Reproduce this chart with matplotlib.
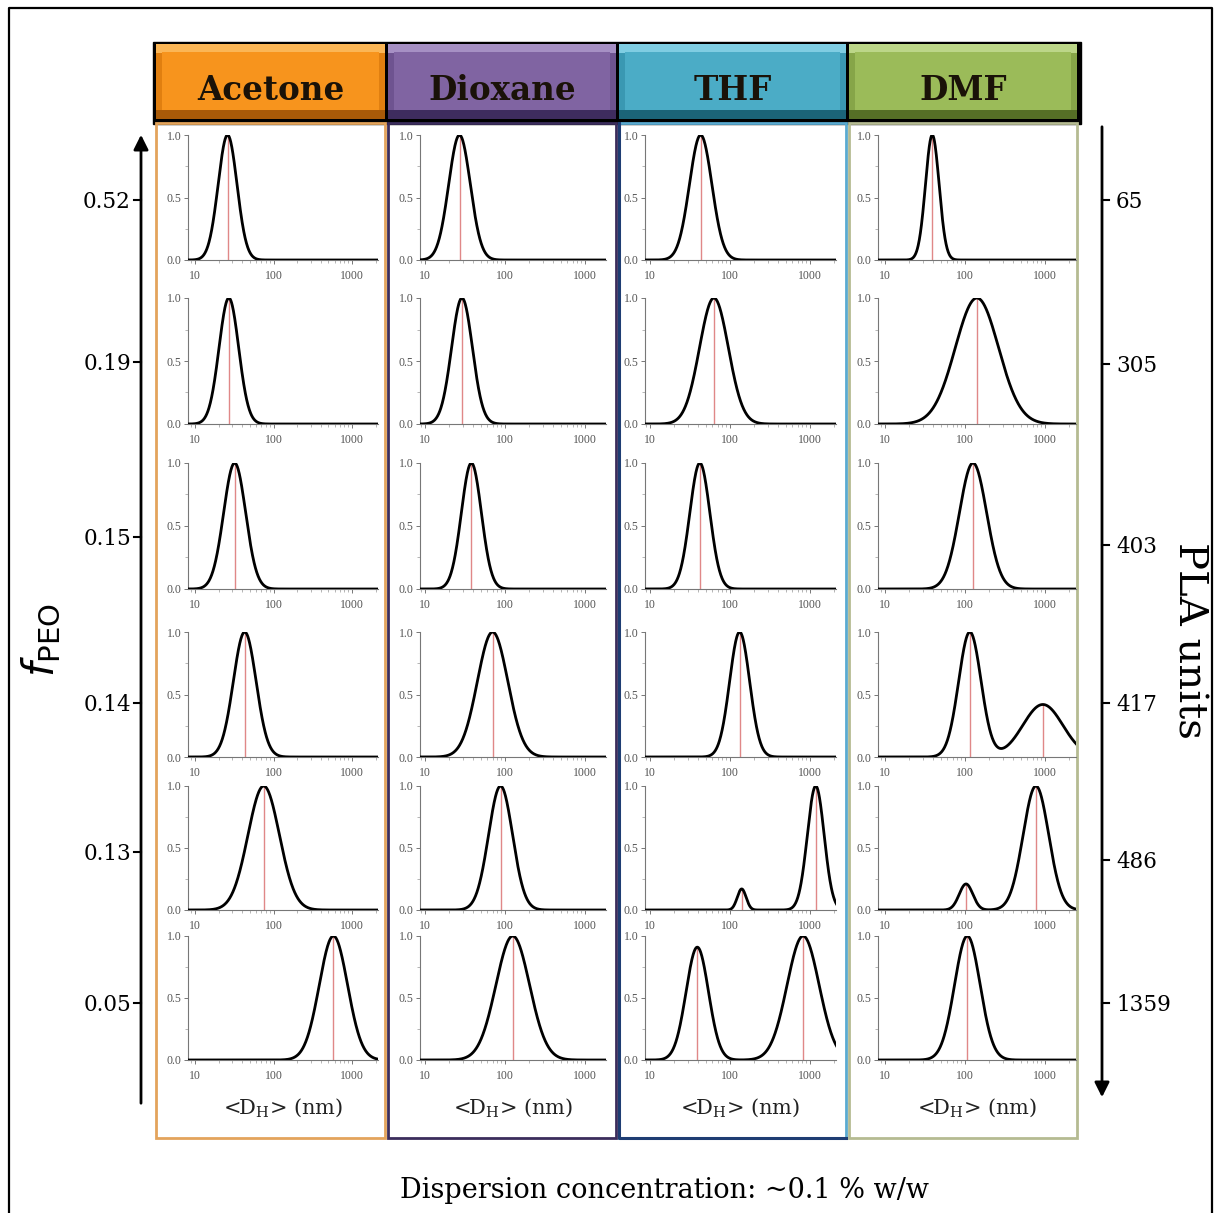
import numpy as np
import matplotlib
matplotlib.use("Agg")
import matplotlib.pyplot as plt
from matplotlib.patches import Rectangle, FancyArrowPatch

# ---------------- data ----------------
solvents = ["Acetone", "Dioxane", "THF", "DMF"]
f_peo_labels = ["0.52", "0.19", "0.15", "0.14", "0.13", "0.05"]
pla_units_labels = ["65", "305", "403", "417", "486", "1359"]
x_tick_values = [10, 100, 1000]
y_tick_values = [0.0, 0.5, 1.0]

# peaks per panel: (center D_H in nm, log10 width sigma, relative height)
acetone_peaks = [
    [(26, 0.12, 1.0)],
    [(27, 0.125, 1.0)],
    [(32, 0.14, 1.0)],
    [(43, 0.145, 1.0)],
    [(75, 0.20, 1.0)],
    [(580, 0.18, 1.0)],
]
dioxane_peaks = [
    [(27, 0.135, 1.0)],
    [(29, 0.13, 1.0)],
    [(38, 0.125, 1.0)],
    [(70, 0.19, 1.0)],
    [(88, 0.15, 1.0)],
    [(125, 0.21, 1.0)],
]
thf_peaks = [
    [(43, 0.14, 1.0)],
    [(63, 0.18, 1.0)],
    [(42, 0.125, 1.0)],
    [(132, 0.125, 1.0)],
    [(140, 0.055, 0.17), (1180, 0.105, 1.0)],
    [(39, 0.14, 0.91), (820, 0.20, 1.0)],
]
dmf_peaks = [
    [(39, 0.085, 1.0)],
    [(141, 0.27, 1.0)],
    [(126, 0.17, 1.0)],
    [(115, 0.14, 1.0), (940, 0.25, 0.42)],
    [(103, 0.085, 0.21), (770, 0.16, 1.0)],
    [(107, 0.16, 1.0)],
]
all_peaks = [acetone_peaks, dioxane_peaks, thf_peaks, dmf_peaks]

# ---------------- style / layout ----------------
W, H = 1220, 1213
fig = plt.figure(figsize=(W / 100, H / 100), dpi=100)
fig.patch.set_facecolor("white")

ov = fig.add_axes([0, 0, 1, 1])
ov.set_xlim(0, W)
ov.set_ylim(H, 0)
ov.axis("off")

serif = "DejaVu Serif"

# outer frame
ov.plot([9, 9, 1212, 1212], [H + 5, 8, 8, H + 5], color="black", lw=1.6)

# header boxes
hdr_x = [155, 387, 618, 848, 1079]
hdr_top, hdr_bot = 44, 122
face = ["#f7941d", "#8064a2", "#4bacc6", "#9bbb59"]
light = ["#fbb656", "#a690c4", "#7fcde2", "#bcd688"]
dark = ["#a85a08", "#3e2c5e", "#1b6478", "#566f26"]
side = ["#e07f10", "#6e5390", "#3a98b2", "#86a548"]
ov.add_patch(Rectangle((153, 42), 928, 82, facecolor="black", edgecolor="black", lw=1, zorder=1))
for i, name in enumerate(solvents):
    x0, x1 = hdr_x[i] + 1, hdr_x[i + 1] - 2
    ov.add_patch(Rectangle((x0, hdr_top), x1 - x0, hdr_bot - hdr_top - 3,
                           facecolor=dark[i], edgecolor="none", zorder=2))
    ov.add_patch(Rectangle((x0, hdr_top), x1 - x0, hdr_bot - hdr_top - 12,
                           facecolor=side[i], edgecolor="none", zorder=2.5))
    ov.add_patch(Rectangle((x0, hdr_top), x1 - x0, 9,
                           facecolor=light[i], edgecolor="none", zorder=3))
    ov.add_patch(Rectangle((x0 + 6, hdr_top + 8), x1 - x0 - 12, hdr_bot - hdr_top - 20,
                           facecolor=face[i], edgecolor="none", zorder=4))
    ov.text((x0 + x1) / 2, 91, name, ha="center", va="center", fontsize=23.5,
            fontweight="bold", family=serif, color="#1a1208", zorder=5)

# column body boxes
body_edge = ["#e3a45c", "#3b2d5c", "#5aaad0", "#b5bb92"]
for i in range(4):
    x0, x1 = hdr_x[i] + 1, hdr_x[i + 1] - 2
    ov.add_patch(Rectangle((x0, 123), x1 - x0, 1138 - 123, facecolor="none",
                           edgecolor=body_edge[i], lw=2.0, zorder=2))
# darker left / bottom edge of THF column
ov.plot([619, 619, 846], [123, 1138, 1138], color="#1e3d73", lw=2.2, zorder=3)

# left arrow (f_PEO)
ov.add_patch(FancyArrowPatch((141, 1106), (141, 132), arrowstyle="-|>",
                             mutation_scale=22, color="black", lw=2.0, zorder=5))
# right arrow (PLA units)
ov.add_patch(FancyArrowPatch((1102, 124), (1102, 1100), arrowstyle="-|>",
                             mutation_scale=22, color="black", lw=2.0, zorder=5))

left_tick_y = [200, 362, 537, 703, 852, 1003]
right_tick_y = [200, 364, 545, 703, 860, 1003]
for lab, y in zip(f_peo_labels, left_tick_y):
    ov.plot([134, 141], [y, y], color="black", lw=1.5)
    ov.text(131, y + 2, lab, ha="right", va="center", fontsize=15.5, family=serif)
for lab, y in zip(pla_units_labels, right_tick_y):
    ov.plot([1102, 1109], [y, y], color="black", lw=1.5)
    ov.text(1116, y + 2, lab, ha="left", va="center", fontsize=15.5, family=serif)

ov.text(42, 640, r"$f_{\mathrm{PEO}}$", rotation=90, ha="center", va="center",
        fontsize=30, family=serif)
ov.text(1189, 640, "PLA units", rotation=-90, ha="center", va="center",
        fontsize=29, family=serif)
ov.text(664, 1190, "Dispersion concentration: ~0.1 % w/w", ha="center", va="center",
        fontsize=19.5, family=serif)

# ---------------- panels ----------------
col_L = [188, 420, 645, 878]
col_R = [378, 606, 836, 1076]
col_x10 = [195, 425, 650, 885]
col_x1000 = [352, 585, 810, 1045]
row_top = [135, 298, 463, 632, 786, 936]
row_bot = [260, 424, 589, 757, 910, 1060]

xs = np.logspace(0.8, 3.5, 800)

for c in range(4):
    d = (col_x1000[c] - col_x10[c]) / 2.0
    lo = 1 - (col_x10[c] - col_L[c]) / d
    hi = 3 + (col_R[c] - col_x1000[c]) / d
    for r in range(6):
        L, R = col_L[c], col_R[c]
        t, b = row_top[r], row_bot[r]
        ax = fig.add_axes([L / W, 1 - b / H, (R - L) / W, (b - t) / H])
        ax.set_facecolor("none")
        ax.set_xscale("log")
        ax.set_xlim(10 ** lo, 10 ** hi)
        ax.set_ylim(0, 1.0)
        peaks = all_peaks[c][r]
        lx = np.log10(xs)
        ys = np.zeros_like(xs)
        for (cen, s, h) in peaks:
            ys += h * np.exp(-0.5 * ((lx - np.log10(cen)) / s) ** 2)
        for (cen, s, h) in peaks:
            yc = 0.0
            for (c2, s2, h2) in peaks:
                yc += h2 * np.exp(-0.5 * ((np.log10(cen) - np.log10(c2)) / s2) ** 2)
            ax.plot([cen, cen], [0, yc], color="#e08888", lw=1.0, zorder=2)
        ax.plot(xs, ys, color="black", lw=2.0, zorder=3, clip_on=True)
        for sp in ["top", "right"]:
            ax.spines[sp].set_visible(False)
        for sp in ["left", "bottom"]:
            ax.spines[sp].set_color("#777777")
            ax.spines[sp].set_linewidth(0.8)
        ax.set_xticks(x_tick_values)
        ax.set_xticklabels([str(v) for v in x_tick_values])
        ax.set_yticks(y_tick_values)
        ax.set_yticklabels(["%.1f" % v for v in y_tick_values])
        ax.set_yticks([0.25, 0.75], minor=True)
        ax.tick_params(axis="both", which="major", direction="out", length=3,
                       width=0.7, color="#777777", labelsize=8.5, labelcolor="#555555", pad=1.5)
        ax.tick_params(axis="x", which="major", pad=4)
        ax.tick_params(axis="both", which="minor", direction="out", length=2,
                       width=0.5, color="#999999")
        for lbl in ax.get_xticklabels() + ax.get_yticklabels():
            lbl.set_family("Liberation Serif")
        if r == 5:
            ov.text((L + R) / 2, 1108, r"<D$_{\mathregular{H}}$> (nm)", ha="center",
                    va="center", fontsize=15, family=serif, color="#222222")

fig.savefig("out.png", dpi=100, facecolor="white")
